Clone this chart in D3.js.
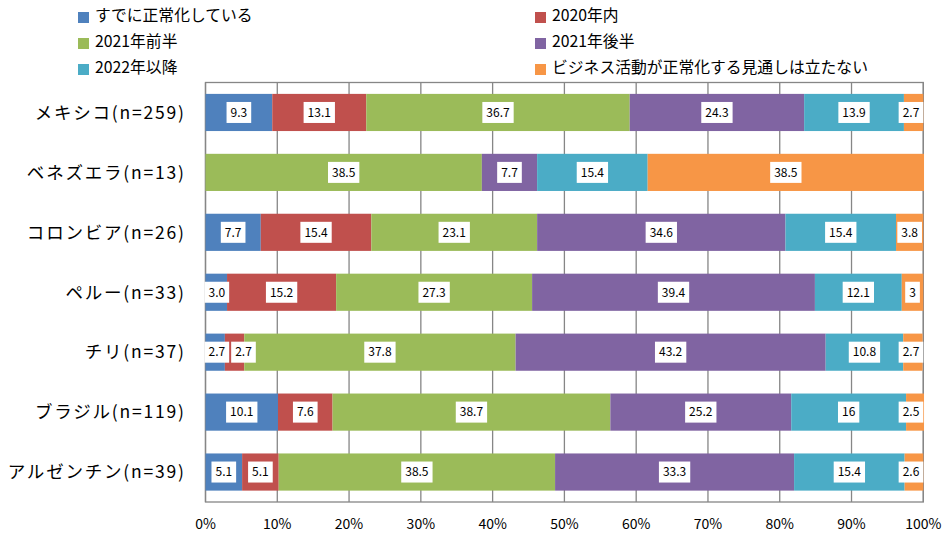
<!DOCTYPE html>
<html><head><meta charset="utf-8">
<script src="https://cdn.jsdelivr.net/npm/d3@7"></script>
<style>body{margin:0;background:#fff}svg{display:block}text{font-family:"Noto Sans CJK JP","Noto Sans",sans-serif}</style>
</head><body><svg id="c" width="951" height="537"></svg>
<script>
const categories = ["メキシコ(n=259)","ベネズエラ(n=13)","コロンビア(n=26)","ペルー(n=33)","チリ(n=37)","ブラジル(n=119)","アルゼンチン(n=39)"];
const seriesNames = ["すでに正常化している","2020年内","2021年前半","2021年後半","2022年以降","ビジネス活動が正常化する見通しは立たない"];
const colors = ["#4F81BD","#C0504D","#9BBB59","#8064A2","#4BACC6","#F79646"];
const s0 = [9.3, 0, 7.7, 3.0, 2.7, 10.1, 5.1];
const s1 = [13.1, 0, 15.4, 15.2, 2.7, 7.6, 5.1];
const s2 = [36.7, 38.5, 23.1, 27.3, 37.8, 38.7, 38.5];
const s3 = [24.3, 7.7, 34.6, 39.4, 43.2, 25.2, 33.3];
const s4 = [13.9, 15.4, 15.4, 12.1, 10.8, 16, 15.4];
const s5 = [2.7, 38.5, 3.8, 3, 2.7, 2.5, 2.6];
const labelText = [
  ["9.3","","7.7","3.0","2.7","10.1","5.1"],
  ["13.1","","15.4","15.2","2.7","7.6","5.1"],
  ["36.7","38.5","23.1","27.3","37.8","38.7","38.5"],
  ["24.3","7.7","34.6","39.4","43.2","25.2","33.3"],
  ["13.9","15.4","15.4","12.1","10.8","16","15.4"],
  ["2.7","38.5","3.8","3","2.7","2.5","2.6"]
];
const ticks = [0,10,20,30,40,50,60,70,80,90,100];
const series = [s0,s1,s2,s3,s4,s5];

const svg = d3.select("#c");
const L = 205.5, R = 923.3, T = 82.5, B = 502;
const x = d3.scaleLinear().domain([0,100]).range([L,R]);
const y = d3.scaleBand().domain(categories).range([T,B]).paddingInner(0.38).paddingOuter(0.19);

// grid
svg.append("g").selectAll("line").data(ticks).join("line")
  .attr("x1",d=>x(d)).attr("x2",d=>x(d)).attr("y1",T).attr("y2",B)
  .attr("stroke","#868686").attr("stroke-width",1.3);
svg.append("rect").attr("x",L).attr("y",T).attr("width",R-L).attr("height",B-T)
  .attr("fill","none").attr("stroke","#868686").attr("stroke-width",1.3);

// stack
const rows = categories.map((c,i)=>{const o={cat:c}; series.forEach((s,j)=>o["k"+j]=s[i]); return o;});
const keys = series.map((s,j)=>"k"+j);
const stacked = d3.stack().keys(keys)(rows);
const g = svg.append("g");
stacked.forEach((layer,j)=>{
  g.append("g").attr("fill",colors[j]).selectAll("rect").data(layer).join("rect")
    .attr("x",d=>x(d[0])).attr("width",d=>x(d[1])-x(d[0]))
    .attr("y",d=>y(d.data.cat)).attr("height",y.bandwidth());
});

// labels
const lg = svg.append("g");
categories.forEach((c,i)=>{
  const items=[];
  stacked.forEach((layer,j)=>{
    const d=layer[i]; const t=labelText[j][i];
    if(!t) return;
    items.push({t, cx:(x(d[0])+x(d[1]))/2});
  });
  const cy = y(c)+y.bandwidth()/2;
  items.forEach(it=>{
    const tmp = lg.append("text").attr("font-size",12).text(it.t);
    it.w = tmp.node().getComputedTextLength()+8; tmp.remove();
    it.x0 = it.cx-it.w/2;
  });
  for(let k=0;k<items.length;k++){
    if(items[k].x0 < L-1) items[k].x0 = L-1;
    if(k>0){const p=items[k-1]; if(items[k].x0 < p.x0+p.w+2) items[k].x0 = p.x0+p.w+2;}
  }
  for(let k=items.length-1;k>=0;k--){
    if(items[k].x0+items[k].w > R) items[k].x0 = R-items[k].w;
    if(k<items.length-1){const nx=items[k+1]; if(items[k].x0+items[k].w > nx.x0-2) items[k].x0 = nx.x0-2-items[k].w;}
  }
  items.forEach(it=>{
    lg.append("rect").attr("x",it.x0).attr("y",cy-10.5).attr("width",it.w).attr("height",21).attr("fill","#fff");
    lg.append("text").attr("x",it.x0+it.w/2).attr("y",cy).attr("dy","0.36em").attr("text-anchor","middle")
      .attr("font-size",12).attr("fill","#000").text(it.t);
  });
});

// category labels
svg.append("g").selectAll("text").data(categories).join("text")
  .attr("x",185.8).attr("y",d=>y(d)+y.bandwidth()/2).attr("dy","0.36em").attr("text-anchor","end")
  .attr("font-size",17.5).attr("letter-spacing",1.8).attr("fill","#000").text(d=>d);

// x tick labels
svg.append("g").selectAll("text").data(ticks).join("text")
  .attr("x",d=>x(d)).attr("y",524).attr("dy","0.36em").attr("text-anchor","middle")
  .attr("font-size",14).attr("fill","#000").text(d=>d+"%");

// legend
const legPos = [[78,17.5],[535,17.5],[78,43.5],[535,43.5],[78,69.5],[535,69.5]];
const leg = svg.append("g");
seriesNames.forEach((name,j)=>{
  const [lx,ly]=legPos[j];
  leg.append("rect").attr("x",lx).attr("y",ly-5.5).attr("width",11).attr("height",11).attr("fill",colors[j]);
  leg.append("text").attr("x",lx+17).attr("y",ly-2).attr("dy","0.36em").attr("font-size",15.8).attr("fill","#000").text(name);
});
</script></body></html>
